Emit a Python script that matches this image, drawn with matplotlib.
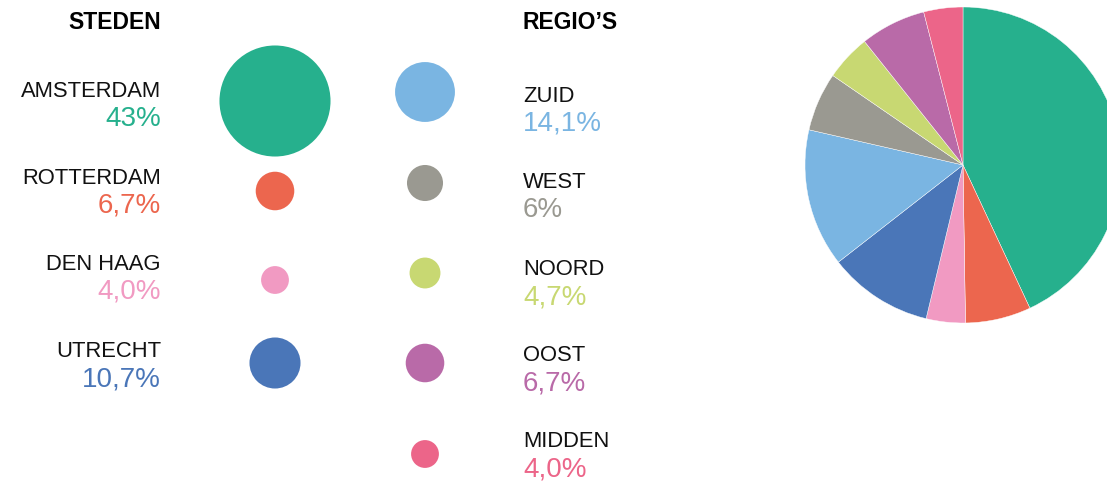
import numpy as np
import matplotlib.pyplot as plt
from matplotlib.patches import Circle

plt.rcParams['font.family'] = ['Liberation Sans', 'DejaVu Sans']

# Share per city
cities = ['AMSTERDAM', 'ROTTERDAM', 'DEN HAAG', 'UTRECHT']
city_values = [43.0, 6.7, 4.0, 10.7]
city_labels = ['43%', '6,7%', '4,0%', '10,7%']
city_colors = ['#26B08D', '#EC664E', '#F19AC2', '#4A76B8']

# Share per region
regions = ['ZUID', 'WEST', 'NOORD', 'OOST', 'MIDDEN']
region_values = [14.1, 6.0, 4.7, 6.7, 4.0]
region_labels = ['14,1%', '6%', '4,7%', '6,7%', '4,0%']
region_colors = ['#7AB5E2', '#9A9991', '#C8D872', '#B96AA8', '#EC6589']

W, H = 1107, 482
fig = plt.figure(figsize=(W / 100, H / 100), dpi=100)
ax = fig.add_axes([0, 0, 1, 1])


def diameter(v):
    # bubble diameter grows with the square root of the share
    return 18.26 * np.sqrt(v) - 8.7


label_kw = dict(fontsize=15.8, color='#111111')
pct_kw = dict(fontsize=20)
head_kw = dict(fontsize=16.5, fontweight='bold', color='#000000')

# left column: cities
ax.text(161, 29, 'STEDEN', ha='right', va='baseline', **head_kw)
city_name_y = [97, 184, 270, 357]
city_dot_y = [101, 191, 280, 363]
for name, v, lab, c, ny, dy in zip(cities, city_values, city_labels, city_colors,
                                   city_name_y, city_dot_y):
    ax.text(161, ny, name, ha='right', va='baseline', **label_kw)
    ax.text(161, ny + 29, lab, ha='right', va='baseline', color=c, **pct_kw)
    ax.add_patch(Circle((275, dy), diameter(v) / 2, color=c, lw=0))

# middle column: regions
ax.text(523, 29, 'REGIO\u2019S', ha='left', va='baseline', **head_kw)
reg_name_y = [102, 188, 275, 361, 447]
reg_dot_y = [92, 183, 273, 363, 454]
for name, v, lab, c, ny, dy in zip(regions, region_values, region_labels, region_colors,
                                   reg_name_y, reg_dot_y):
    ax.text(523, ny, name, ha='left', va='baseline', **label_kw)
    ax.text(523, ny + 29, lab, ha='left', va='baseline', color=c, **pct_kw)
    ax.add_patch(Circle((425, dy), diameter(v) / 2, color=c, lw=0))

# pie with all nine shares, clockwise from the top (y axis is inverted)
ax.pie(city_values + region_values, colors=city_colors + region_colors,
       center=(963, 165), radius=158, startangle=-90, counterclock=True,
       wedgeprops=dict(edgecolor='white', linewidth=0.3), frame=True)
ax.set_xlim(0, W)
ax.set_ylim(H, 0)
ax.set_aspect('equal')
ax.axis('off')

fig.savefig('out.png', dpi=100)
